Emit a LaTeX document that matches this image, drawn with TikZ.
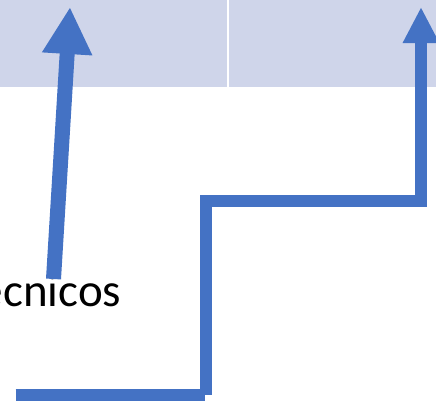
\documentclass[tikz,border=0pt]{standalone}
\usepackage{fontspec}
\setmainfont{Carlito}
\usetikzlibrary{arrows.meta}
\definecolor{band}{HTML}{CFD5EA}
\definecolor{accent}{HTML}{4472C4}
\tikzset{
  bandbox/.style={fill=band, draw=none},
  thickarrow/.style={draw=accent, line width=15pt, line cap=butt, -{Triangle[length=47pt,width=47pt]}},
  steparrow/.style={draw=accent, line width=12pt, line cap=butt, line join=miter, -{Triangle[length=36pt,width=34pt]}},
  stepline/.style={draw=accent, line width=12pt, line cap=butt},
  label/.style={inner sep=0pt, font=\fontsize{47}{54}\selectfont}
}
\begin{document}
\begin{tikzpicture}[x=1pt, y=-1pt]
  \useasboundingbox (0,0) rectangle (436,405);
  \clip (0,0) rectangle (436,405);
  \fill[white] (0,0) rectangle (436,405);
  \path[bandbox] (0,0) rectangle (227,87);
  \path[bandbox] (229.3,0) rectangle (436,87);
  \node[label, anchor=base east] (txt) at (121.5,306.7) {Técnicos};
  \coordinate (a1s) at (53.5,279);
  \coordinate (a1e) at (70,7);
  \draw[thickarrow] (a1s) -- (a1e);
  \coordinate (s0) at (15.5,394.5);
  \coordinate (s1) at (205,394.5);
  \coordinate (v0) at (205.5,395);
  \coordinate (v1) at (205.5,201);
  \coordinate (v2) at (421,201);
  \coordinate (v3) at (421,7);
  \draw[stepline] (s0) -- (s1);
  \draw[steparrow] (v0) -- (v1) -- (v2) -- (v3);
\end{tikzpicture}
\end{document}
